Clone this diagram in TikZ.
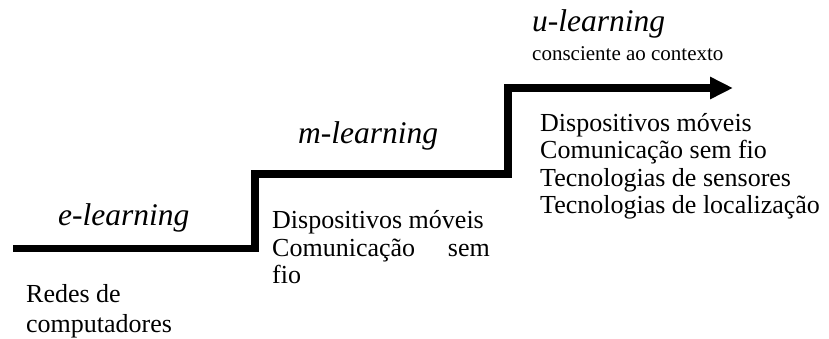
\documentclass[tikz,border=0pt]{standalone}
\usepackage{fontspec}
\setmainfont{Liberation Serif}
\usetikzlibrary{arrows.meta}
\begin{document}
\begin{tikzpicture}[x=1pt,y=-1pt,
  stair/.style={line width=7.5pt, line join=miter, line cap=butt,
    -{Triangle[length=23pt,width=21pt]}},
  era/.style={anchor=base west, inner sep=0pt,
    font=\fontsize{31.5}{34}\selectfont\itshape},
  item/.style={anchor=base west, inner sep=0pt,
    font=\fontsize{26}{27.5}\selectfont},
  note/.style={anchor=base west, inner sep=0pt,
    font=\fontsize{21}{23}\selectfont}]
\useasboundingbox (0,0) rectangle (829,338);

% the staircase arrow
\coordinate (s0) at (13,248.5);
\coordinate (s1) at (255,248.5);
\coordinate (s2) at (255,174);
\coordinate (s3) at (508,174);
\coordinate (s4) at (508,88);
\coordinate (s5) at (733,88);
\draw[stair] (s0) -- (s1) -- (s2) -- (s3) -- (s4) -- (s5);

% e-learning
\node[era]  (e)   at (58,225) {e-learning};
\node[item] (e1)  at (26,302) {Redes de};
\node[item] (e2)  at (26,332) {computadores};

% m-learning
\node[era]  (m)   at (298,143) {m-learning};
\node[item] (m1)  at (272,228) {Dispositivos móveis};
\node[item] (m2)  at (272,256) {Comunicação};
\node[item, anchor=base east] (m2b) at (490,256) {sem};
\node[item] (m3)  at (272,283) {fio};

% u-learning
\node[era]  (u)   at (532,31) {u-learning};
\node[note] (u0)  at (532,60) {consciente ao contexto};
\node[item] (u1)  at (540,131) {Dispositivos móveis};
\node[item] (u2)  at (540,158.5) {Comunicação sem fio};
\node[item] (u3)  at (540,186) {Tecnologias de sensores};
\node[item] (u4)  at (540,213.5) {Tecnologias de localização};
\end{tikzpicture}
\end{document}
